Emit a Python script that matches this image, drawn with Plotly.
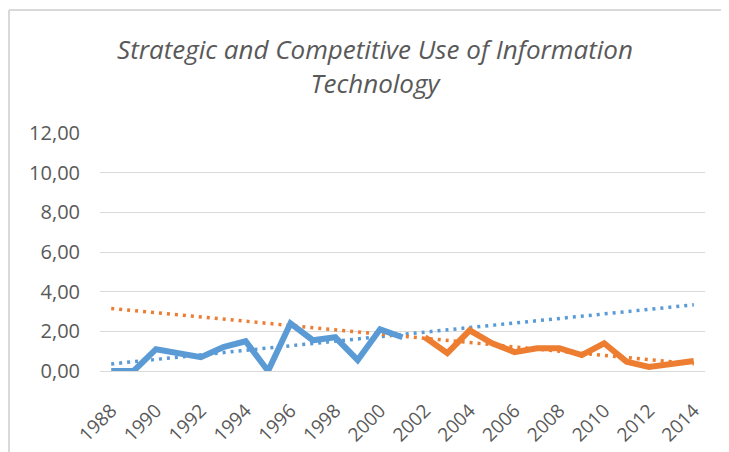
import numpy as np
import plotly.graph_objects as go

blue_years = list(range(1988, 2002))
blue_values = [0.0, 0.0, 1.1, 0.9, 0.7, 1.2, 1.5, 0.0, 2.4, 1.55, 1.7, 0.55, 2.1, 1.7]

orange_years = list(range(2002, 2015))
orange_values = [1.7, 0.9, 2.05, 1.4, 0.95, 1.15, 1.15, 0.8, 1.4, 0.47, 0.2, 0.35, 0.5]

all_years = list(range(1988, 2015))
tick_years = list(range(1988, 2015, 2))
y_ticks = [0, 2, 4, 6, 8, 10, 12]

blue = '#5B9BD5'
orange = '#ED7D31'
text_color = '#595959'
grid_color = '#D9D9D9'
clear = 'rgba(0,0,0,0)'


def trend(years, values):
    # linear trendline like excel, stretched over the whole axis
    k, b = np.polyfit(years, values, 1)
    return [k * yr + b for yr in all_years]


fig = go.Figure()

fig.add_trace(go.Scatter(
    x=all_years, y=trend(blue_years, blue_values),
    mode='lines', line=dict(color=blue, width=3.5, dash='3px,5px'),
    showlegend=False, hoverinfo='skip'
))
fig.add_trace(go.Scatter(
    x=all_years, y=trend(orange_years, orange_values),
    mode='lines', line=dict(color=orange, width=3.5, dash='3px,5px'),
    showlegend=False, hoverinfo='skip'
))
fig.add_trace(go.Scatter(
    x=blue_years, y=blue_values,
    mode='lines', line=dict(color=blue, width=6),
    showlegend=False
))
fig.add_trace(go.Scatter(
    x=orange_years, y=orange_values,
    mode='lines', line=dict(color=orange, width=6),
    showlegend=False
))

# the page body adds an 8px margin, so work in window pixels and shift
OFF = 8
W, H = 729 - OFF, 452 - OFF
L, T = 100 - OFF, 133 - OFF
pw, ph = 605, 238
R, B = W - L - pw, H - T - ph


def px(x):
    return (x - OFF - L) / pw


def py(y):
    return (T + ph - (y - OFF)) / ph


# light grey chart border (left and top edges only are visible)
fig.add_shape(type='line', xref='paper', yref='paper',
              x0=px(9), x1=px(9), y0=py(10), y1=py(470),
              line=dict(color=grid_color, width=2))
fig.add_shape(type='line', xref='paper', yref='paper',
              x0=px(9), x1=px(760), y0=py(10), y1=py(10),
              line=dict(color=grid_color, width=2))

fig.update_layout(
    width=W,
    height=H,
    paper_bgcolor='white',
    plot_bgcolor='white',
    margin=dict(l=L, r=R, t=T, b=B, autoexpand=False),
    font=dict(family='Open Sans', color=text_color),
    title=dict(
        text='<i>Strategic and Competitive Use of Information<br>Technology</i>',
        xref='container', x=(375 - OFF) / W,
        yref='container', y=1 - (59 - OFF) / H, yanchor='middle', xanchor='center',
        font=dict(family='Open Sans', size=26, color=text_color)
    ),
    xaxis=dict(
        range=[1987.5, 2014.5],
        tickmode='array',
        tickvals=tick_years,
        ticktext=[str(y) for y in tick_years],
        tickangle=-45,
        tickfont=dict(size=19, color=text_color),
        showgrid=False,
        zeroline=False,
        showline=False,
        ticks='outside',
        ticklen=20,
        tickcolor=clear,
    ),
    yaxis=dict(
        range=[0, 12],
        tickmode='array',
        tickvals=y_ticks,
        ticktext=[f'{v:.2f}'.replace('.', ',') for v in y_ticks],
        tickfont=dict(size=20, color=text_color),
        showgrid=True,
        gridcolor=grid_color,
        gridwidth=1,
        zeroline=True,
        zerolinecolor=grid_color,
        zerolinewidth=1,
        ticks='outside',
        ticklen=15,
        tickcolor=clear,
    ),
)

fig.write_html('out.html')
